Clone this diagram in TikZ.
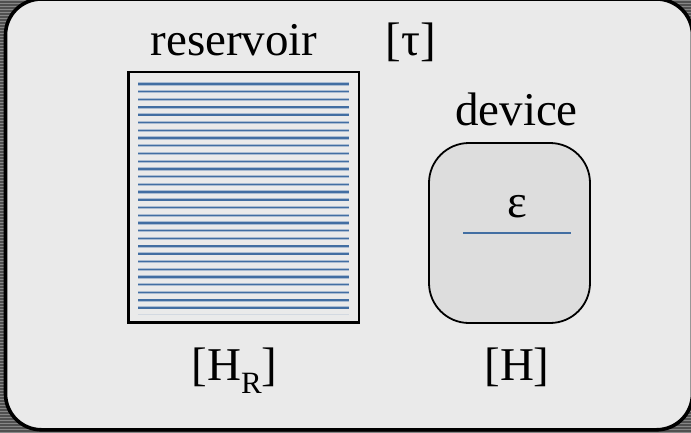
\documentclass[tikz,border=0pt]{standalone}
\usepackage{fontspec}
\setmainfont{Liberation Serif}
\definecolor{paper}{RGB}{234,234,234}
\definecolor{devfill}{RGB}{221,221,221}
\definecolor{stripedark}{RGB}{80,80,80}
\definecolor{stripelight}{RGB}{135,135,135}
\definecolor{level}{RGB}{66,110,162}
\definecolor{levelhalo}{RGB}{170,188,210}
\tikzset{
  lbl/.style={inner sep=0pt, anchor=base, font=\fontsize{47}{56}\selectfont},
  frame/.style={draw=black, line width=3.6pt, fill=paper, rounded corners=36pt},
  resbox/.style={draw=black, line width=2.4pt, fill=paper},
  devbox/.style={draw=black, line width=1.8pt, fill=devfill, rounded corners=40pt},
  levelhalo/.style={draw=levelhalo, line width=3.2pt},
  levelline/.style={draw=level, line width=1.4pt}
}
\begin{document}
\begin{tikzpicture}[x=1pt, y=-1pt]
\useasboundingbox (0,0) rectangle (691,432);
% striped backdrop
\fill[stripedark] (0,0) rectangle (691,432);
\foreach \yy in {0,3,...,432} {
  \draw[stripelight, line width=1pt] (0,\yy+0.5) -- (691,\yy+0.5);
}
% outer frame
\draw[frame] (5.5,-1) rectangle (692.5,429.8);
% reservoir box with its dense ladder of levels
\draw[resbox] (128.5,72) rectangle (359,322.5);
\foreach \i in {0,...,29} {
  \pgfmathsetmacro{\yy}{84+7.72*\i}
  \draw[levelhalo] (138,\yy) -- (349,\yy);
  \draw[levelline] (138,\yy) -- (349,\yy);
}
\draw[draw=levelhalo, opacity=0.35, line width=1pt] (138,314) -- (349,314);
% device with a single level
\draw[devbox] (429,143) rectangle (590,323);
\coordinate (lvA) at (463,233);
\coordinate (lvB) at (571,233);
\draw[levelline, line width=1.8pt] (lvA) -- (lvB);
% labels
\node[lbl] (reservoir) at (234,55) {reservoir};
\node[lbl] (tau) at (411,55) {[τ]};
\node[lbl] (device) at (516.5,125) {device};
\node[lbl] (eps) at (517,217) {ε};
\node[lbl] (HR) at (234.5,380) {[H\raisebox{-0.28em}{\fontsize{31}{31}\selectfont R}]};
\node[lbl] (H) at (517,380) {[H]};
\end{tikzpicture}
\end{document}
